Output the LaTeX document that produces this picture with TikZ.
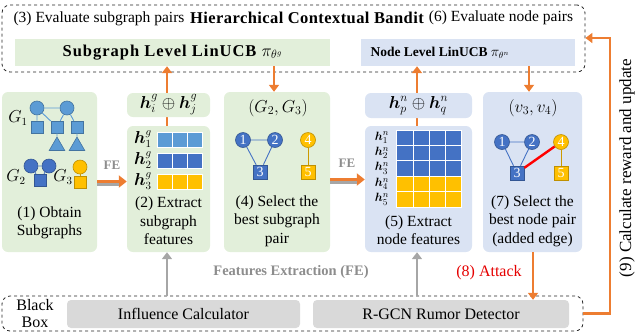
\documentclass[tikz,border=0pt]{standalone}
\usepackage{fontspec}
\setmainfont{Liberation Serif}
\newfontfamily\widebf[LetterSpace=2.5]{Liberation Serif}
\newfontfamily\semiwidebf[LetterSpace=6]{Liberation Serif}
\usepackage{amsmath,bm}
\usetikzlibrary{arrows.meta,shapes.geometric}
\definecolor{panelgreen}{HTML}{E2EFDA}
\definecolor{panelblue}{HTML}{DAE3F3}
\definecolor{boxgray}{HTML}{D9D9D9}
\definecolor{flowgray}{HTML}{A6A6A6}
\definecolor{flowamber}{HTML}{ED7D31}
\definecolor{lightblu}{HTML}{5B9BD5}
\definecolor{darkblu}{HTML}{4472C4}
\definecolor{goldy}{HTML}{FFC000}
\tikzset{
  panel/.style={rounded corners=6pt, inner sep=0pt, align=center},
  gpanel/.style={panel, fill=panelgreen},
  npanel/.style={panel, fill=panelblue},
  bbox/.style={panel, fill=boxgray, rounded corners=4pt, font=\fontsize{16}{18}\selectfont},
  frame/.style={draw=black!85, dashed, line width=0.8pt, rounded corners=8pt, inner sep=0pt},
  caption/.style={font=\fontsize{15.5}{18.5}\selectfont, align=center, inner sep=0pt},
  hlab/.style={font=\fontsize{16}{16}\selectfont, inner sep=0pt},
  cell/.style={draw=white, line width=1pt, inner sep=0pt},
  gcirc/.style={circle, draw=#1!75!black, fill=#1, line width=0.6pt, minimum size=14pt, inner sep=0pt,
    text=white, font=\fontsize{14}{14}\selectfont},
  gsq/.style={rectangle, draw=#1!75!black, fill=#1, line width=0.6pt, minimum size=14pt, inner sep=0pt,
    text=white, font=\fontsize{14}{14}\selectfont},
  gtri/.style={regular polygon, regular polygon sides=3, draw=#1!75!black, fill=#1, line width=0.6pt,
    minimum size=18pt, inner sep=0pt},
  gedge/.style={draw=#1, line width=0.9pt},
  orangeflow/.style={-{Triangle[length=7pt,width=10pt]}, line width=2.6pt, draw=flowamber},
  grayflow/.style={-{Triangle[length=7pt,width=10pt]}, line width=2.6pt, draw=flowgray},
  felab/.style={font=\bfseries\fontsize{13}{13}\selectfont, text=flowgray!85!black},
}
\begin{document}
\begin{tikzpicture}[x=1pt,y=-1pt]
\useasboundingbox (0,0) rectangle (640,333);
% upper frame: the two bandits
\node[frame, minimum width=583, minimum height=67] (bandit) at (293.5,38.5) {};
\node[caption] (eval3) at (99,19) {(3) Evaluate subgraph pairs};
\node[caption, font=\widebf\bfseries\fontsize{16.5}{18}\selectfont] (title) at (307,18) {Hierarchical Contextual Bandit};
\node[caption] (eval6) at (501,18) {(6) Evaluate node pairs};
\node[gpanel, rounded corners=0pt, minimum width=315, minimum height=27,
  font=\semiwidebf\bfseries\fontsize{16.5}{18}\selectfont] (subbar) at (172.5,52.5) {Subgraph Level LinUCB $\pi_{\theta^{g}}$};
\node[npanel, rounded corners=0pt, minimum width=214, minimum height=27] (nodebar) at (468,52.5) {};
\node[caption, font=\bfseries\fontsize{13.5}{15}\selectfont] (nodetxt) at (440,52.5) {Node Level LinUCB $\pi_{\theta^{n}}$};

% middle row panels
\node[gpanel, minimum width=95, minimum height=160] (obtain) at (49.5,172) {};
\node[gpanel, minimum width=83, minimum height=126] (featg) at (168.5,189) {};
\node[gpanel, minimum width=106, minimum height=160] (pairg) at (277,172) {};
\node[npanel, minimum width=107, minimum height=126] (featn) at (418.5,189) {};
\node[npanel, minimum width=99, minimum height=160] (pairn) at (532.5,172) {};

% bandit links, drawn below the concat boxes
\draw[flowamber, line width=2.6pt] (featg.north -| 167,0) -- (167,117);
\draw[flowamber, line width=2.6pt] (featn.north -| 417,0) -- (417,118);
\node[gpanel, minimum width=83, minimum height=24, font=\fontsize{18}{18}\selectfont] (catg) at (168.5,105)
  {$\bm{h}^{g}_{i}\oplus\bm{h}^{g}_{j}$};
\node[npanel, minimum width=107, minimum height=25, font=\fontsize{18}{18}\selectfont] (catn) at (418.5,105.5)
  {$\bm{h}^{n}_{p}\oplus\bm{h}^{n}_{q}$};
\draw[orangeflow] (catg.north -| 167,0) -- (subbar.south -| 167,0);
\draw[orangeflow] (subbar.south -| 274,0) -- (pairg.north -| 274,0);
\draw[orangeflow] (catn.north -| 417,0) -- (nodebar.south -| 417,0);
\draw[orangeflow] (nodebar.south -| 529,0) -- (pairn.north -| 529,0);

% (1) subgraphs
\node[hlab] (lg1) at (18,118) {$G_1$};
\node[gcirc=lightblu] (a1) at (37,108) {};
\node[gcirc=lightblu] (a2) at (67,108) {};
\node[gsq=lightblu, minimum size=12pt] (a3) at (37,127) {};
\node[gsq=lightblu, minimum size=12pt] (a4) at (57,127) {};
\node[gsq=lightblu, minimum size=12pt] (a5) at (77,127) {};
\node[gtri=lightblu] (a6) at (57,146) {};
\node[gtri=lightblu] (a7) at (77,146) {};
\draw[gedge=lightblu] (a1) -- (a2) (a1) -- (a3) (a1) -- (a4) (a2) -- (a4) (a2) -- (a5) (a4) -- (a6) (a5) -- (a7);
\node[hlab] (lg2) at (16,177) {$G_2$};
\node[gcirc=darkblu] (b1) at (31,166) {};
\node[gcirc=darkblu] (b2) at (49,166) {};
\node[gsq=darkblu, minimum size=12pt] (b3) at (40,180) {};
\draw[gedge=darkblu] (b1) -- (b2) (b1) -- (b3) (b2) -- (b3);
\node[hlab] (lg3) at (63,177) {$G_3$};
\node[gcirc=goldy] (c1) at (80,167) {};
\node[gsq=goldy, minimum size=12pt] (c2) at (80,182) {};
\draw[gedge=goldy!80!black] (c1) -- (c2);
\node[caption] (cap1) at (49.5,223) {(1) Obtain\\Subgraphs};

% (2) subgraph features
\foreach \r/\c in {1/lightblu,2/darkblu,3/goldy}{
  \node[hlab] (hg\r) at (143,{118.5+21*\r}) {$\bm{h}^{g}_{\r}$};
  \foreach \k in {0,1,2}
    \node[cell, fill=\c, minimum width=15.3, minimum height=15] (g\r\k) at ({164.7+15.3*\k},{118.5+21*\r}) {};}
\node[caption] (cap2) at (168.5,221) {(2) Extract\\subgraph\\features};

% (4) best subgraph pair
\node[caption, font=\fontsize{16.5}{18}\selectfont] (pg) at (278,108) {$(G_2,G_3)$};
\node[gcirc=darkblu, minimum size=15pt] (p1) at (243,140) {1};
\node[gcirc=darkblu, minimum size=15pt] (p2) at (275,140) {2};
\node[gsq=darkblu] (p3) at (260,172) {3};
\node[gcirc=goldy, minimum size=15pt] (p4) at (308,140) {4};
\node[gsq=goldy] (p5) at (308,172) {5};
\draw[gedge=darkblu] (p1) -- (p2) (p1) -- (p3) (p2) -- (p3);
\draw[gedge=goldy!80!black] (p4) -- (p5);
\node[caption] (cap4) at (277,221) {(4) Select the\\best subgraph\\pair};

% (5) node features
\foreach \r/\c in {1/darkblu,2/darkblu,3/darkblu,4/goldy,5/goldy}{
  \node[hlab, font=\fontsize{13}{13}\selectfont] (hn\r) at (382,{122.3+15.4*\r}) {$\bm{h}^{n}_{\r}$};
  \foreach \k in {0,1,2,3}
    \node[cell, fill=\c, minimum width=16.25, minimum height=15.4] (n\r\k) at ({405.1+16.25*\k},{122.3+15.4*\r}) {};}
\node[caption] (cap5) at (418.5,230) {(5) Extract\\node features};

% (7) best node pair
\node[caption, font=\fontsize{16.5}{18}\selectfont] (pn) at (533,108) {$(v_3,v_4)$};
\node[gcirc=darkblu, minimum size=15pt] (q1) at (502,142) {1};
\node[gcirc=darkblu, minimum size=15pt] (q2) at (532,142) {2};
\node[gsq=darkblu] (q3) at (517,173) {3};
\node[gcirc=goldy, minimum size=15pt] (q4) at (561,142) {4};
\node[gsq=goldy] (q5) at (561,173) {5};
\draw[gedge=darkblu] (q1) -- (q2) (q1) -- (q3) (q2) -- (q3);
\draw[gedge=goldy!80!black] (q4) -- (q5);
\draw[red, line width=2.4pt] (q3) -- (q4);
\node[caption] (cap7) at (532.5,221) {(7) Select the\\best node pair\\(added edge)};

% feature extraction arrows
\coordinate (fe1) at (112,183);
\coordinate (fe2) at (347,181);
\draw[flowamber, line width=3pt, -{Triangle[length=8pt,width=12pt]}] ([yshift=1.5]obtain.east |- fe1) -- ([yshift=1.5]featg.west |- fe1);
\draw[flowgray, line width=3pt] ([yshift=-1.5]obtain.east |- fe1) -- ([xshift=-8,yshift=-1.5]featg.west |- fe1);
\draw[flowamber, line width=3pt, -{Triangle[length=8pt,width=12pt]}] ([yshift=1.5]pairg.east |- fe2) -- ([yshift=1.5]featn.west |- fe2);
\draw[flowgray, line width=3pt] ([yshift=-1.5]pairg.east |- fe2) -- ([xshift=-8,yshift=-1.5]featn.west |- fe2);
\node[felab] (fel1) at (112,165) {FE};
\node[felab] (fel2) at (347,163) {FE};

% black box
\node[frame, minimum width=581, minimum height=35] (blackbox) at (292.5,313.5) {};
\node[caption, font=\fontsize{16}{17.5}\selectfont] (bbtxt) at (35,313.5) {Black\\Box};
\node[bbox, minimum width=233, minimum height=28] (influence) at (183.5,314) {Influence Calculator};
\node[bbox, minimum width=256, minimum height=28] (rgcn) at (441,314) {R-GCN Rumor Detector};
\draw[grayflow] (blackbox.north -| 167,0) -- (featg.south -| 167,0);
\draw[grayflow] (blackbox.north -| 417,0) -- (featn.south -| 417,0);
\node[felab, font=\bfseries\fontsize{14.5}{15}\selectfont] (felong) at (291,272) {Features Extraction (FE)};
\node[caption, text=red!90!black, font=\fontsize{16}{17}\selectfont] (attack) at (489,273) {(8) Attack};
\draw[orangeflow] (pairn.south -| 533,0) -- (rgcn.north -| 533,0);

% reward feedback
\coordinate (turn) at (610,38);
\draw[orangeflow] (blackbox.east) -| (turn) -- (bandit.east |- turn);
\node[caption, rotate=90, font=\fontsize{17}{17}\selectfont] (reward) at (627,168) {(9) Calculate reward and update};
\end{tikzpicture}
\end{document}
